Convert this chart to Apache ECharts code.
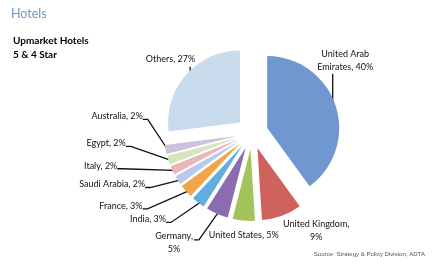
<!DOCTYPE html>
<html><head><meta charset="utf-8">
<script src="https://cdn.jsdelivr.net/npm/echarts@6/dist/echarts.min.js"></script>
<style>html,body{margin:0;padding:0;background:#fff}#c{width:435px;height:265px}</style>
</head><body><div id="c"></div>
<script>
const categories = ['United Arab Emirates','United Kingdom','United States','Germany','India','France','Saudi Arabia','Italy','Egypt','Australia','Others'];
const labelNames = ['United Arab\nEmirates','United Kingdom,\n','United States','Germany,\n','India','France','Saudi Arabia','Italy','Egypt','Australia','Others'];
const shares = [40,9,5,5,3,3,2,2,2,2,27];
const colors = ['#7197d0','#d0625d','#a3c45a','#8a6dae','#62ade0','#f0a548','#b9c9ea','#e8b8b7','#d6e5bd','#cdc1dc','#c9dcee'];

// label nudges relative to the library's default placement: [dx, dy, leader style]
const labelNudge = [
  [-8,-42,'up'],[23,5,'none'],[9,5,'none'],[-31,20,'first'],
  [-18,9,'side'],[-28,8,'side'],[-16,-1,'side'],[-38,-9,'side'],[-25,-20,'side'],[-5,-35,'side'],
  [0,-9,'tick']
];

const chart = echarts.init(document.getElementById('c'));
const data = categories.map((n,i)=>({
  name:n, value:shares[i], selected:true,
  itemStyle:{color:colors[i]},
  labelLine: labelNudge[i][2]==='none' ? {show:false} : undefined
}));
chart.setOption({
  animation:false,
  title:[
    {text:'Hotels',left:11,top:7,padding:0,textStyle:{fontFamily:'Lato',fontSize:12.5,fontWeight:'normal',color:'#6f97c6'}},
    {text:'Upmarket Hotels\n5 & 4 Star',left:13,top:34,padding:0,textStyle:{fontFamily:'Lato',fontSize:10,fontWeight:'bold',color:'#000',lineHeight:14}},
    {text:'Source: Strategy & Policy Division, ADTA',right:10,top:251,padding:0,textStyle:{fontFamily:'Liberation Sans',fontSize:6.1,fontWeight:'normal',color:'#555'}}
  ],
  series:[{
    type:'pie',
    center:[252,133],
    radius:[0,72],
    startAngle:90,
    clockwise:true,
    selectedMode:'multiple',
    selectedOffset:16,
    avoidLabelOverlap:false,
    emphasis:{disabled:true},
    data:data,
    label:{
      show:true,
      formatter:p=>{const ln=labelNames[p.dataIndex];return ln.endsWith('\n')?ln+p.value+'%':ln+', '+p.value+'%';},
      fontFamily:'Lato',fontSize:9,color:'#111',lineHeight:13,distanceToLabelLine:0
    },
    labelLine:{show:true,length:10,length2:8,minTurnAngle:0,maxSurfaceAngle:180,lineStyle:{color:'#111',width:1.3}},
    labelLayout:function(p){
      const n=labelNudge[p.dataIndex];
      const o={dx:n[0],dy:n[1]};
      const kind=n[2];
      if(kind!=='side') o.align='center';
      const pts=p.labelLinePoints;
      if(!pts) return o;
      const s=pts[0], e=pts[2];
      const ax=e[0]+n[0], ay=e[1]+n[1];
      const w=p.labelRect.width, h=p.labelRect.height;
      const bottom=ay+h/2;
      if(kind==='side'){
        o.labelLinePoints=[[s[0]+2,s[1]],[ax+5,ay+3],[ax,ay+3]];
      } else if(kind==='first'){
        const y=ay-h/2+10;
        o.labelLinePoints=[[s[0]+3,s[1]-4],[ax+w/2+6,y],[ax+w/2+1,y]];
      } else if(kind==='up'){
        o.labelLinePoints=[[s[0]-3,s[1]+9],[s[0]-3,(s[1]+bottom)/2],[s[0]-3,bottom]];
      } else if(kind==='tick'){
        const x=s[0]+4;
        o.labelLinePoints=[[x,bottom+8],[x+0.3,bottom+4],[x,bottom+1]];
      }
      return o;
    }
  }]
});
</script></body></html>
